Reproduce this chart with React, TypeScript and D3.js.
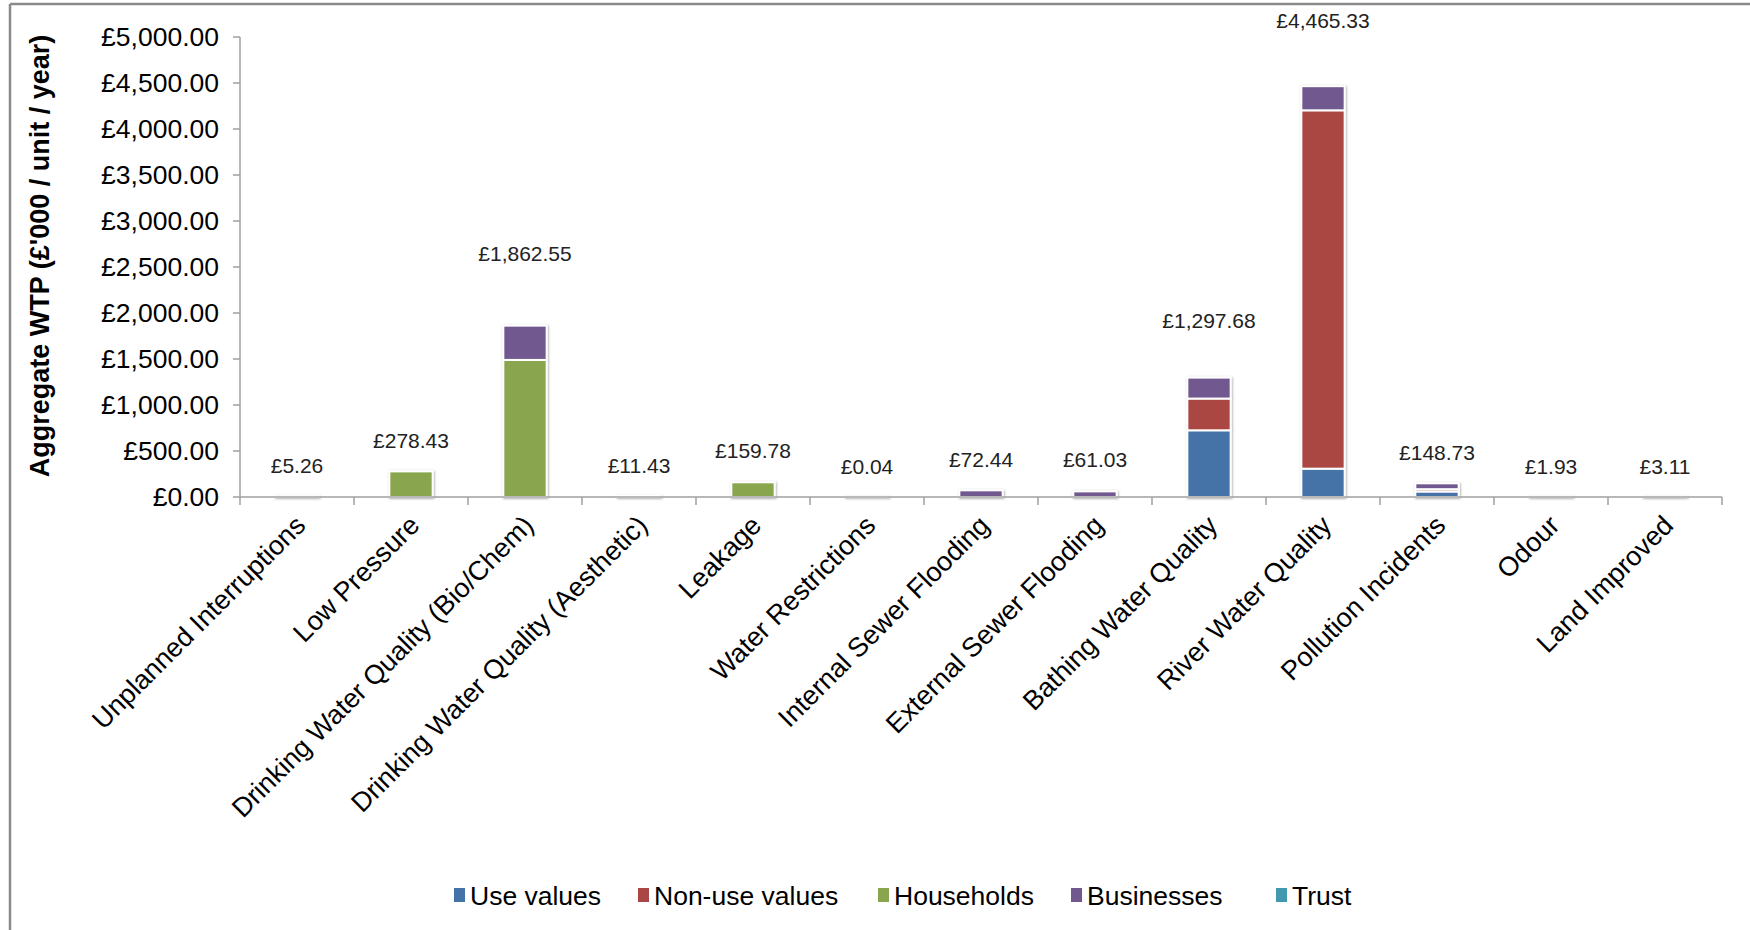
import React from "react";
import * as d3 from "d3";

const categories = [
  "Unplanned Interruptions",
  "Low Pressure",
  "Drinking Water Quality (Bio/Chem)",
  "Drinking Water Quality (Aesthetic)",
  "Leakage",
  "Water Restrictions",
  "Internal Sewer Flooding",
  "External Sewer Flooding",
  "Bathing Water Quality",
  "River Water Quality",
  "Pollution Incidents",
  "Odour",
  "Land Improved",
];

const useValues = [0, 0, 0, 0, 0, 0, 0, 0, 725, 308, 60, 1.93, 3.11];
const nonUseValues = [0, 0, 0, 0, 0, 0, 0, 0, 345, 3895, 25, 0, 0];
const households = [5.26, 278.43, 1490, 11.43, 159.78, 0.04, 0, 0, 0, 0, 0, 0, 0];
const businesses = [0, 0, 372.55, 0, 0, 0, 72.44, 61.03, 227.68, 262.33, 63.73, 0, 0];
const trust = [0, 0, 0, 0, 0, 0, 0, 0, 0, 0, 0, 0, 0];

// where the total labels sit (in £'000 units)
const totalLabelAt = [343, 611, 2649, 343, 501, 332, 404, 404, 1921, 5184, 489, 332, 332];

const seriesNames = ["Use values", "Non-use values", "Households", "Businesses", "Trust"];
const seriesColors = ["#4572A7", "#AA4643", "#89A54E", "#71588F", "#4198AF"];
const yTicks = [0, 500, 1000, 1500, 2000, 2500, 3000, 3500, 4000, 4500, 5000];
const yTitle = "Aggregate WTP (£'000 / unit / year)";

const W = 1750;
const H = 930;
const plotLeft = 240;
const plotRight = 1722;
const plotTop = 37;
const plotBottom = 497;
const FONT = "Liberation Sans, Arial, sans-serif";

export default function App() {
  const seriesData = [useValues, nonUseValues, households, businesses, trust];
  const rows = categories.map((c, i) => {
    const r: any = { cat: c };
    seriesNames.forEach((s, k) => (r[s] = seriesData[k][i]));
    return r;
  });
  const stacked = d3.stack<any>().keys(seriesNames)(rows);
  const totals = categories.map((_, i) => d3.sum(seriesData, (s) => s[i]));

  const x = d3
    .scaleBand<string>()
    .domain(categories)
    .range([plotLeft, plotRight])
    .paddingInner(0.62)
    .paddingOuter(0.31);
  const slot = d3.scaleLinear().domain([0, categories.length]).range([plotLeft, plotRight]);
  const y = d3.scaleLinear().domain([0, 5000]).range([plotBottom, plotTop]);

  const fmt = d3.format(",.2f");
  const money = (v: number) => "£" + fmt(v);
  const axisColor = "#A0A0A0";

  const legendX = [454, 638, 878, 1071, 1276];

  return (
    <svg
      width={W}
      height={H}
      style={{ position: "absolute", left: 0, top: 0, background: "#fff" }}
      fontFamily={FONT}
    >
      <defs>
        <filter id="shadow" x="-20%" y="-20%" width="140%" height="140%">
          <feDropShadow dx="0.8" dy="0.8" stdDeviation="1.3" floodColor="#000" floodOpacity="0.35" />
        </filter>
      </defs>
      <rect x={0} y={0} width={W} height={H} fill="#fff" />
      {/* outer frame */}
      <line x1={10} y1={4} x2={W} y2={4} stroke="#8a8a8a" strokeWidth={2.5} />
      <line x1={10} y1={4} x2={10} y2={H} stroke="#8a8a8a" strokeWidth={2.5} />

      {/* y axis */}
      <line x1={plotLeft} y1={plotTop} x2={plotLeft} y2={plotBottom} stroke={axisColor} strokeWidth={1.5} />
      {yTicks.map((t) => (
        <g key={t}>
          <line x1={plotLeft - 7} x2={plotLeft} y1={y(t)} y2={y(t)} stroke={axisColor} strokeWidth={1.5} />
          <text
            x={plotLeft - 21}
            y={y(t)}
            textAnchor="end"
            dominantBaseline="central"
            fontSize={26.5}
            fill="#000"
          >
            {money(t)}
          </text>
        </g>
      ))}
      <text
        transform={`translate(40,256) rotate(-90)`}
        textAnchor="middle"
        dominantBaseline="central"
        fontSize={27}
        fontWeight="bold"
        fill="#000"
      >
        {yTitle}
      </text>

      {/* bars */}
      <g filter="url(#shadow)">
        {stacked.map((s, k) =>
          s.map((d, i) => {
            const v = d[1] - d[0];
            if (v <= 0) return null;
            return (
              <rect
                key={k + "-" + i}
                x={x(categories[i])}
                width={x.bandwidth()}
                y={y(d[1])}
                height={Math.max(0, y(d[0]) - y(d[1]))}
                fill={seriesColors[k]}
                stroke="#fff"
                strokeWidth={2}
              />
            );
          })
        )}
      </g>

      {/* x axis */}
      <line x1={plotLeft} y1={plotBottom} x2={plotRight} y2={plotBottom} stroke={axisColor} strokeWidth={1.5} />
      {d3.range(categories.length + 1).map((i) => (
        <line
          key={i}
          x1={slot(i)}
          x2={slot(i)}
          y1={plotBottom}
          y2={plotBottom + 8}
          stroke={axisColor}
          strokeWidth={1.5}
        />
      ))}
      {categories.map((c) => {
        const cx = (x(c) as number) + x.bandwidth() / 2;
        return (
          <text
            key={c}
            transform={`translate(${cx + 10},${plotBottom + 30}) rotate(-45)`}
            textAnchor="end"
            fontSize={27}
            fill="#000"
          >
            {c}
          </text>
        );
      })}

      {/* total labels */}
      {categories.map((c, i) => (
        <text
          key={c + "-lbl"}
          x={(x(c) as number) + x.bandwidth() / 2}
          y={y(totalLabelAt[i])}
          textAnchor="middle"
          dominantBaseline="central"
          fontSize={21}
          fill="#222"
        >
          {money(totals[i])}
        </text>
      ))}

      {/* legend */}
      {seriesNames.map((s, k) => (
        <g key={s}>
          <rect x={legendX[k]} y={888} width={11} height={14} fill={seriesColors[k]} />
          <text x={legendX[k] + 16} y={896} dominantBaseline="central" fontSize={26.5} fill="#000">
            {s}
          </text>
        </g>
      ))}
    </svg>
  );
}
